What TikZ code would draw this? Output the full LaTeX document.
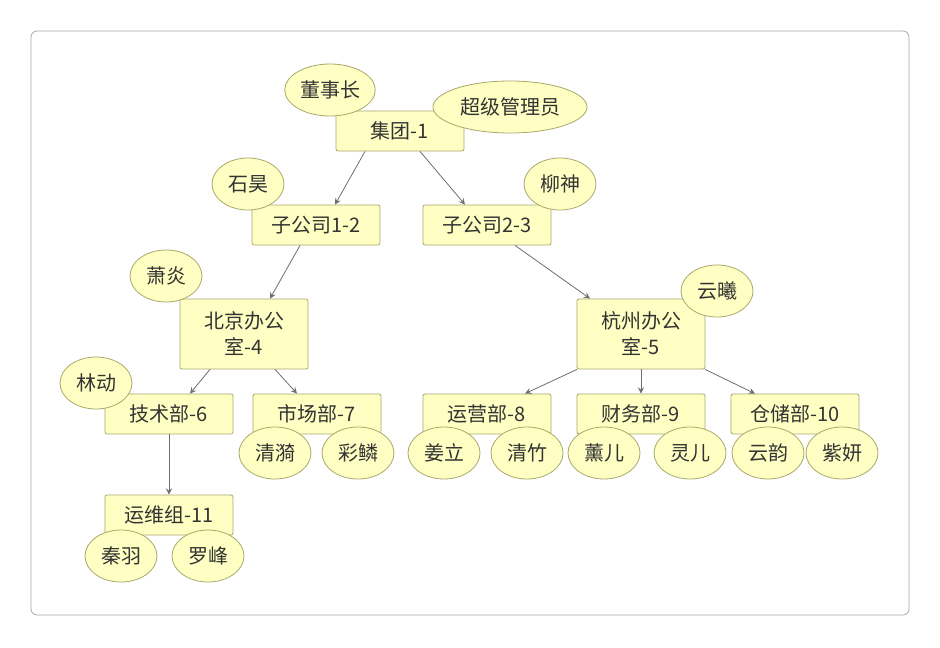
\documentclass[tikz,border=0pt]{standalone}
\usepackage{fontspec}
\setmainfont{Noto Sans CJK SC}
\usetikzlibrary{shapes.geometric,calc}
\definecolor{boxfill}{HTML}{FFFFC4}
\definecolor{boxline}{HTML}{A8A86A}
\definecolor{arrowgray}{HTML}{6E6E6E}
\tikzset{
  unit/.style={draw=boxline, fill=boxfill, rounded corners=1pt, minimum width=64pt,
    minimum height=20pt, align=center, font=\fontsize{10}{13}\selectfont, text=black!80},
  person/.style={ellipse, draw=boxline, fill=boxfill, minimum width=36pt,
    minimum height=26pt, inner sep=1pt, font=\fontsize{10}{12}\selectfont, text=black!80},
  link/.style={draw=arrowgray, -stealth, thin}
}
\begin{document}
\begin{tikzpicture}[x=0.5pt, y=-0.5pt]
  \useasboundingbox (0,0) rectangle (940,647);
  \draw[gray!70, rounded corners=3pt] (31,31) rectangle (909,615);

  % units
  \node[unit] (g1) at (400,131) {集团-1};
  \node[unit] (c2) at (316,225) {子公司1-2};
  \node[unit] (c3) at (487,225) {子公司2-3};
  \node[unit, minimum height=35pt] (o4) at (244,334) {北京办公\\室-4};
  \node[unit, minimum height=35pt] (o5) at (641,334) {杭州办公\\室-5};
  \node[unit] (d6) at (169,414) {技术部-6};
  \node[unit] (d7) at (317,414) {市场部-7};
  \node[unit] (d8) at (487,414) {运营部-8};
  \node[unit] (d9) at (641,414) {财务部-9};
  \node[unit] (d10) at (795,414) {仓储部-10};
  \node[unit] (t11) at (169,515) {运维组-11};

  % links
  \draw[link] ($(g1.south)+(-35,0)$) -- ($(c2.north)+(19,0)$);
  \draw[link] ($(g1.south)+(20,0)$) -- ($(c3.north)+(-22,0)$);
  \draw[link] ($(c2.south)+(-16,0)$) -- ($(o4.north)+(26,0)$);
  \draw[link] ($(c3.south)+(28,0)$) -- ($(o5.north)+(-51,0)$);
  \draw[link] ($(o4.south)+(-34,0)$) -- ($(d6.north)+(21,0)$);
  \draw[link] ($(o4.south)+(31,0)$) -- ($(d7.north)+(-20,0)$);
  \draw[link] ($(o5.south)+(-64,0)$) -- ($(d8.north)+(38,0)$);
  \draw[link] (o5.south) -- (d9.north);
  \draw[link] ($(o5.south)+(64,0)$) -- ($(d10.north)+(-40,0)$);
  \draw[link] (d6.south) -- (t11.north);

  % people
  \node[person] (p1) at (330,90) {董事长};
  \node[person, minimum width=77pt] (p2) at (510,107) {超级管理员};
  \node[person] (p3) at (248,184) {石昊};
  \node[person] (p4) at (560,184) {柳神};
  \node[person] (p5) at (166,276) {萧炎};
  \node[person] (p6) at (717,291) {云曦};
  \node[person] (p7) at (96,383) {林动};
  \node[person] (p8) at (275,453) {清漪};
  \node[person] (p9) at (358,453) {彩鳞};
  \node[person] (p10) at (444,453) {姜立};
  \node[person] (p11) at (527,453) {清竹};
  \node[person] (p12) at (604,453) {薰儿};
  \node[person] (p13) at (690,453) {灵儿};
  \node[person] (p14) at (768,453) {云韵};
  \node[person] (p15) at (842,453) {紫妍};
  \node[person] (p16) at (121,556) {秦羽};
  \node[person] (p17) at (208,556) {罗峰};
\end{tikzpicture}
\end{document}
